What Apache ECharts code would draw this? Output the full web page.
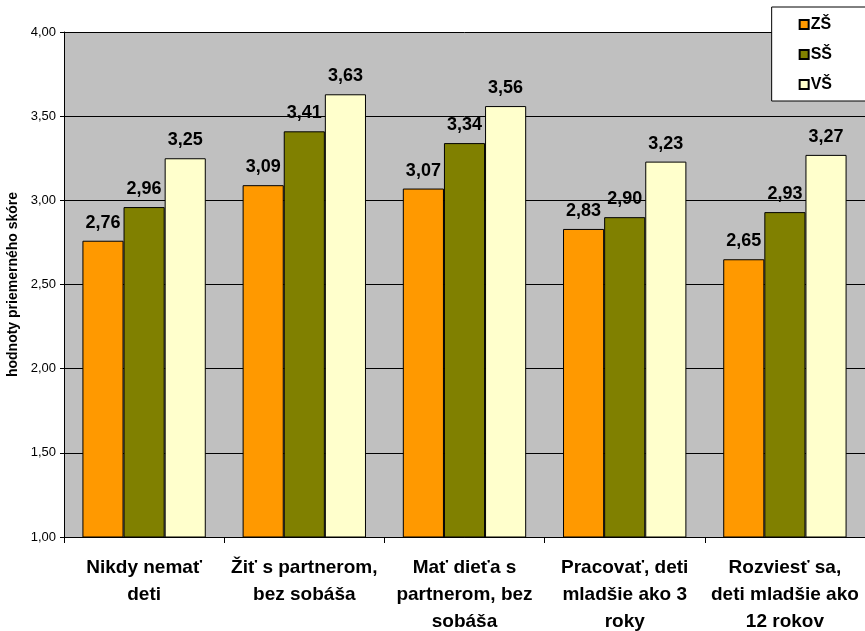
<!DOCTYPE html>
<html>
<head>
<meta charset="utf-8">
<script src="https://cdn.jsdelivr.net/npm/echarts@6/dist/echarts.min.js"></script>
<style>
  html, body { margin: 0; padding: 0; background: #fff; }
  #chart { width: 865px; height: 631px; }
</style>
</head>
<body>
<div id="chart"></div>
<script>
const categories = [
    'Nikdy nemať\ndeti',
    'Žiť s partnerom,\nbez sobáša',
    'Mať dieťa s\npartnerom, bez\nsobáša',
    'Pracovať, deti\nmladšie ako 3\nroky',
    'Rozviesť sa,\ndeti mladšie ako\n12 rokov'
];
const seriesNames = ['ZŠ', 'SŠ', 'VŠ'];
const zsValues = [2.76, 3.09, 3.07, 2.83, 2.65];
const ssValues = [2.96, 3.41, 3.34, 2.90, 2.93];
const vsValues = [3.25, 3.63, 3.56, 3.23, 3.27];
const colors = ['#ff9900', '#808000', '#ffffcc'];

const fmt = v => v.toFixed(2).replace('.', ',');

const myChart = echarts.init(document.getElementById('chart'));

function bar(name, data, color) {
    return {
        name: name,
        type: 'bar',
        data: data,
        barGap: 0,
        barCategoryGap: '23%',
        animation: false,
        itemStyle: {
            color: color,
            borderColor: '#000',
            borderWidth: 1
        },
        label: {
            show: true,
            position: 'top',
            distance: 9,
            fontFamily: 'Liberation Sans',
            fontWeight: 'bold',
            fontSize: 18,
            color: '#000',
            formatter: p => fmt(p.value)
        }
    };
}

var option = {
    textStyle: { fontFamily: 'Liberation Sans' },
    grid: {
        left: 64,
        right: 0,
        top: 32,
        bottom: 94,
        outerBoundsMode: 'none',
        containLabel: false,
        show: true,
        backgroundColor: '#c0c0c0',
        borderWidth: 0
    },
    legend: {
        orient: 'vertical',
        right: -10,
        top: 7,
        backgroundColor: '#fff',
        borderColor: '#000',
        borderWidth: 1,
        padding: [9, 43, 8, 27],
        itemWidth: 9,
        itemHeight: 9,
        itemGap: 13,
        icon: 'rect',
        textStyle: {
            fontFamily: 'Liberation Sans',
            fontWeight: 'bold',
            fontSize: 16,
            lineHeight: 17,
            color: '#000',
            padding: [0, 0, 0, -3]
        },
        data: seriesNames
    },
    xAxis: {
        type: 'category',
        data: categories,
        axisLine: { lineStyle: { color: '#000', width: 1 } },
        axisTick: { show: true, length: 6, lineStyle: { color: '#000' } },
        axisLabel: {
            interval: 0,
            margin: 17,
            fontFamily: 'Liberation Sans',
            fontWeight: 'bold',
            fontSize: 19,
            lineHeight: 27,
            color: '#000'
        }
    },
    yAxis: {
        type: 'value',
        min: 1,
        max: 4,
        interval: 0.5,
        name: 'hodnoty priemerného skóre',
        nameLocation: 'middle',
        nameGap: 42,
        nameTextStyle: {
            fontFamily: 'Liberation Sans',
            fontWeight: 'bold',
            fontSize: 14,
            color: '#000'
        },
        axisLine: { show: true, lineStyle: { color: '#000', width: 1 } },
        axisTick: { show: true, length: 4, lineStyle: { color: '#000' } },
        axisLabel: {
            margin: 8,
            fontFamily: 'Liberation Sans',
            fontSize: 13,
            color: '#000',
            formatter: v => fmt(v)
        },
        splitLine: { show: true, lineStyle: { color: '#000', width: 1 } }
    },
    series: [
        bar(seriesNames[0], zsValues, colors[0]),
        bar(seriesNames[1], ssValues, colors[1]),
        bar(seriesNames[2], vsValues, colors[2])
    ]
};
myChart.setOption(option);
</script>
</body>
</html>
